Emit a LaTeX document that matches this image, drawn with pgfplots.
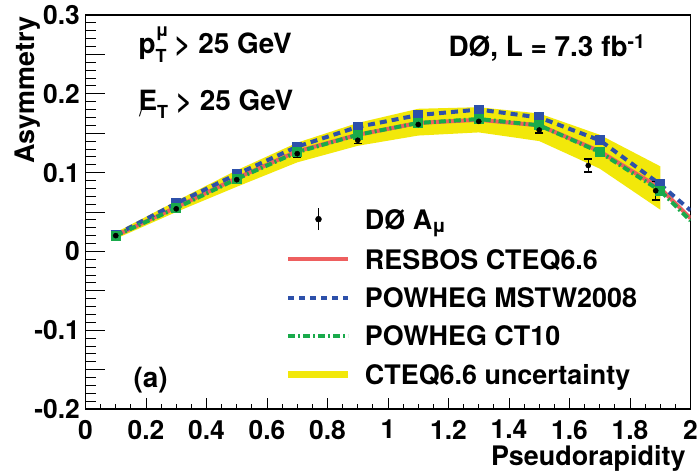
\documentclass[border=0pt]{standalone}
\usepackage{fontspec}
\setmainfont{TeX Gyre Heros}
\usepackage{pgfplots}
\pgfplotsset{compat=1.18}

\definecolor{cred}{RGB}{238,95,95}
\definecolor{cblue}{RGB}{45,80,170}
\definecolor{cgreen}{RGB}{25,170,75}
\definecolor{cyel}{RGB}{242,232,10}

\newcommand{\txt}{\fontsize{27}{30}\selectfont\bfseries}
\newcommand{\sml}{\fontsize{18}{18}\selectfont}

\pgfplotsset{
  linelegend/.style={legend image code/.code={\draw[##1] (0bp,0bp) -- (60bp,0bp);}},
  datalegend/.style={legend image code/.code={%
    \path[draw=none] (0bp,0bp) -- (60bp,0bp);
    \draw[black,line width=1.5bp] (30bp,-11bp) -- (30bp,11bp);
    \fill[black] (30bp,0bp) circle (3bp);}},
}

% theory curves at bin centres, last point at the axis edge
\pgfplotstableread{
x     y
0.1   0.020
0.3   0.056
0.5   0.093
0.7   0.127
0.9   0.148
1.1   0.163
1.3   0.167
1.5   0.160
1.7   0.127
1.9   0.080
2.0   0.042
}\resbos

\pgfplotstableread{
x     y
0.1   0.021
0.3   0.061
0.5   0.098
0.7   0.133
0.9   0.158
1.1   0.173
1.3   0.180
1.5   0.170
1.7   0.141
1.9   0.085
2.0   0.052
}\mstw

\pgfplotstableread{
x     y
0.1   0.020
0.3   0.055
0.5   0.092
0.7   0.126
0.9   0.148
1.1   0.163
1.3   0.168
1.5   0.160
1.7   0.126
1.9   0.077
2.0   0.039
}\ctten

\pgfplotstableread{
x      y      e
0.1    0.020  0.003
0.3    0.054  0.004
0.5    0.091  0.004
0.7    0.124  0.004
0.9    0.141  0.004
1.1    0.161  0.004
1.3    0.165  0.003
1.5    0.154  0.004
1.662  0.109  0.008
1.885  0.077  0.012
}\dzero

\begin{document}
\begin{tikzpicture}
\useasboundingbox (-85.5bp,-67bp) rectangle (614.5bp,409bp);
\begin{axis}[
  at={(0,0)}, anchor=south west,
  scale only axis,
  width=605bp, height=394bp,
  xmin=0, xmax=2,
  ymin=-0.2, ymax=0.3,
  axis line style={line width=1.6bp},
  xtick={0,0.2,0.4,0.6,0.8,1,1.2,1.4,1.6,1.8,2},
  xticklabels={0,0.2,0.4,0.6,0.8,1,1.2,1.4,1.6,1.8,2},
  xtick style={draw=none},
  minor x tick num=0,
  ytick={-0.2,-0.15,-0.1,-0.05,0,0.05,0.1,0.15,0.2,0.25,0.3},
  yticklabels={-0.2,,-0.1,,0,,0.1,,0.2,,0.3},
  minor y tick num=4,
  ytick pos=left,
  xtick pos=bottom,
  tick align=inside,
  major tick length=19bp,
  minor tick length=10bp,
  tick style={line width=0.9bp, black},
  ticklabel style={font=\fontsize{26.5}{28}\selectfont\bfseries, inner sep=0pt},
  xticklabel shift=11bp,
  yticklabel shift=5.5bp,
  /pgf/number format/assume math mode=true,
  legend style={at={(axis cs:0.6595,0.0558)}, anchor=north west,
    draw=none, fill=none, inner sep=0pt, outer sep=0pt,
    font=\txt, row sep=18.3bp, column sep=13bp,
    nodes={inner sep=0pt, text height=20bp, text depth=0bp}},
  legend cell align=left,
]

% CTEQ6.6 uncertainty band
\addplot[fill=cyel, draw=none, forget plot] coordinates {
  (0.1,0.024) (0.3,0.064) (0.5,0.103) (0.7,0.138) (0.9,0.163)
  (1.1,0.181) (1.3,0.183) (1.5,0.175) (1.7,0.148) (1.9,0.108)
  (1.9,0.053) (1.7,0.105) (1.5,0.140) (1.3,0.151) (1.1,0.147)
  (0.9,0.134) (0.7,0.113) (0.5,0.082) (0.3,0.050) (0.1,0.016)
} -- cycle;

\addplot[cred, line width=4bp, forget plot] table {\resbos};
\addplot[cblue, line width=4bp, dash pattern=on 7bp off 5bp,
  mark=square*, mark size=3bp, mark indices={1,...,10},
  mark options={solid}, forget plot] table {\mstw};
\addplot[cgreen, line width=4bp, dash pattern=on 7bp off 3bp on 2bp off 3bp,
  mark=square*, mark size=3bp, mark indices={1,...,10},
  mark options={solid}, forget plot] table {\ctten};

\addplot[black, only marks, mark=*, mark size=2.6bp, forget plot,
  error bars/.cd, y dir=both, y explicit,
  error bar style={line width=1.5bp},
  error mark options={rotate=90, line width=1.5bp, mark size=4bp}]
  table[x=x, y=y, y error=e] {\dzero};

% bottom axis ticks (short every 0.05, long every 0.2)
\pgfplotsinvokeforeach{1,...,39}{
  \draw[line width=0.9bp] (axis cs:#1*0.05,-0.2) -- ++(0bp,5.5bp);
}
\pgfplotsinvokeforeach{1,...,9}{
  \draw[line width=0.9bp] (axis cs:#1*0.2,-0.2) -- ++(0bp,11bp);
}

\addlegendimage{datalegend}
\addlegendentry{DØ A\textsubscript{μ}}
\addlegendimage{linelegend, cred, line width=4bp}
\addlegendentry{RESBOS CTEQ6.6}
\addlegendimage{linelegend, cblue, line width=4bp, dash pattern=on 6bp off 5bp}
\addlegendentry{POWHEG MSTW2008}
\addlegendimage{linelegend, cgreen, line width=4bp, dash pattern=on 7bp off 3bp on 2bp off 3bp}
\addlegendentry{POWHEG CT10}
\addlegendimage{linelegend, cyel, line width=7bp}
\addlegendentry{CTEQ6.6 uncertainty}
\end{axis}

% axis titles and annotations (axis box spans 0..605bp by 0..394bp)
\node[anchor=base east, font=\txt] at (603.5bp,-56bp) {Pseudorapidity};
\node[rotate=90, anchor=base east, font=\txt] at (-50.5bp,396bp) {Asymmetry};
\node[anchor=base west, font=\fontsize{28}{30}\selectfont\bfseries] at (49.5bp,355bp)
  {p\rlap{\raisebox{0.62em}{\sml μ}}\raisebox{-0.3em}{\sml T}\ > 25 GeV};
\node[anchor=base west, font=\fontsize{28}{30}\selectfont\bfseries] at (49.5bp,298.5bp)
  {\rlap{\kern0.02em\raisebox{-0.22em}{\fontsize{19}{19}\selectfont\mdseries /}}E\raisebox{-0.3em}{\sml T}\ > 25 GeV};
\node[anchor=base west, font=\fontsize{28}{30}\selectfont\bfseries] at (359.5bp,352bp)
  {DØ, L = 7.3 fb\textsuperscript{-1}};
\node[anchor=base west, font=\fontsize{28}{30}\selectfont\bfseries] at (44.5bp,22bp) {(a)};
\end{tikzpicture}
\end{document}
